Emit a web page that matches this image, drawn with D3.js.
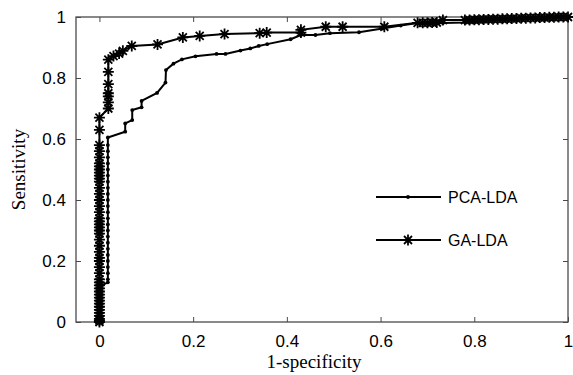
<!DOCTYPE html>
<html>
<head>
<meta charset="utf-8">
<script src="https://cdn.jsdelivr.net/npm/d3@7"></script>
<style>
  body { margin: 0; background: #fff; }
  svg { display: block; }
  .tick text { font-family: "Liberation Sans", Arial, sans-serif; font-size: 17px; fill: #000; }
  .axis-label { font-family: "Liberation Serif", "Times New Roman", serif; font-size: 19px; fill: #000; }
  .legend text { font-family: "Liberation Sans", Arial, sans-serif; font-size: 16px; fill: #000; }
</style>
</head>
<body>
<div id="chart"></div>
<script>
// x/y tick values
const xTicks = [0, 0.2, 0.4, 0.6, 0.8, 1]
const yTicks = [0, 0.2, 0.4, 0.6, 0.8, 1]

// PCA-LDA ROC curve (1-specificity, sensitivity)
const pcaFpr = [0, 0, 0.003, 0.003, 0.003, 0.005, 0.018,
    0.018, 0.018, 0.018, 0.018, 0.018, 0.018, 0.018, 0.018, 0.018, 0.018, 0.018, 0.018,
    0.018, 0.018, 0.018, 0.018, 0.018, 0.018, 0.018, 0.018, 0.018, 0.018, 0.018, 0.018,
    0.055, 0.055, 0.07, 0.07, 0.09, 0.09, 0.123, 0.141, 0.142, 0.158, 0.176, 0.205,
    0.25, 0.269, 0.301, 0.322, 0.34, 0.358, 0.408, 0.43, 0.461, 0.492, 0.554, 0.604,
    0.643, 0.679, 0.70, 0.733, 0.78, 0.80, 0.82, 0.84, 0.86, 0.88, 0.90, 0.92, 0.94,
    0.96, 0.98, 1]
const pcaTpr = [0, 0.02, 0.05, 0.08, 0.10, 0.12, 0.13,
    0.14, 0.16, 0.18, 0.20, 0.22, 0.24, 0.26, 0.28, 0.30, 0.32, 0.34, 0.36,
    0.38, 0.40, 0.42, 0.44, 0.46, 0.48, 0.50, 0.52, 0.54, 0.56, 0.58, 0.605,
    0.624, 0.651, 0.662, 0.695, 0.704, 0.725, 0.751, 0.785, 0.826, 0.847, 0.861, 0.871,
    0.879, 0.879, 0.89, 0.897, 0.905, 0.911, 0.927, 0.941, 0.941, 0.947, 0.95, 0.962,
    0.972, 0.98, 0.98, 0.98, 0.982, 0.985, 0.987, 0.99, 0.99, 0.992, 0.994, 0.996, 0.997,
    0.998, 1, 1]

// GA-LDA ROC curve
const gaFpr = [0, 0, 0, 0, 0, 0, 0, 0, 0, 0, 0, 0, 0, 0, 0, 0,
    0, 0, 0, 0, 0, 0, 0, 0, 0, 0, 0, 0, 0, 0, 0, 0,
    0, 0, 0, 0, 0, 0, 0, 0, 0, 0, 0, 0, 0, 0,
    0.019, 0.019, 0.019, 0.019, 0.019, 0.019, 0.019,
    0.03, 0.042, 0.05, 0.069, 0.124, 0.178, 0.214, 0.267, 0.342, 0.357, 0.43, 0.43,
    0.483, 0.519, 0.608, 0.679, 0.69, 0.70, 0.71, 0.72, 0.733,
    0.78, 0.79, 0.80, 0.81, 0.82, 0.83, 0.84, 0.85, 0.86, 0.87, 0.88, 0.89,
    0.90, 0.91, 0.92, 0.93, 0.94, 0.95, 0.96, 0.97, 0.98, 0.99, 1]
const gaTpr = [0, 0.005, 0.01, 0.02, 0.03, 0.04, 0.05, 0.06, 0.07, 0.08, 0.09, 0.10, 0.11, 0.12, 0.13, 0.14,
    0.16, 0.18, 0.20, 0.21, 0.23, 0.25, 0.27, 0.29, 0.30, 0.31, 0.32, 0.33, 0.34, 0.36, 0.38, 0.40,
    0.42, 0.44, 0.46, 0.47, 0.48, 0.49, 0.50, 0.51, 0.52, 0.54, 0.56, 0.58, 0.63, 0.67,
    0.70, 0.72, 0.74, 0.75, 0.78, 0.82, 0.86,
    0.872, 0.88, 0.889, 0.905, 0.91, 0.933, 0.938, 0.944, 0.947, 0.949, 0.949, 0.958,
    0.968, 0.968, 0.968, 0.981, 0.981, 0.981, 0.982, 0.982, 0.99,
    0.99, 0.99, 0.991, 0.991, 0.992, 0.992, 0.993, 0.993, 0.994, 0.994, 0.995, 0.995,
    0.996, 0.996, 0.997, 0.997, 0.998, 0.998, 0.999, 0.999, 1, 1, 1]

const legendLabels = ["PCA-LDA", "GA-LDA"]

const width = 573, height = 375
const plot = { left: 76, right: 568, top: 17, bottom: 322 }
const frameColor = "#4a4a4a"

const svg = d3.select("#chart").append("svg")
    .attr("width", width)
    .attr("height", height)

const x = d3.scaleLinear().domain([-0.05, 1]).range([plot.left, plot.right])
const y = d3.scaleLinear().domain([0, 1]).range([plot.bottom, plot.top])

/** axes with inward ticks, matlab style */
function styleAxis(g) {
    g.select(".domain").remove()
    g.selectAll(".tick line").attr("stroke", frameColor)
}

svg.append("g")
    .attr("transform", `translate(0,${plot.bottom})`)
    .call(d3.axisBottom(x).tickValues(xTicks).tickSizeInner(-5).tickSizeOuter(0)
        .tickPadding(13).tickFormat(d => String(d)))
    .call(styleAxis)

svg.append("g")
    .attr("transform", `translate(0,${plot.top})`)
    .call(d3.axisTop(x).tickValues(xTicks).tickSizeInner(-5).tickSizeOuter(0).tickFormat(""))
    .call(styleAxis)

svg.append("g")
    .attr("transform", `translate(${plot.left},0)`)
    .call(d3.axisLeft(y).tickValues(yTicks).tickSizeInner(-5).tickSizeOuter(0)
        .tickPadding(10).tickFormat(d => String(d)))
    .call(styleAxis)

svg.append("g")
    .attr("transform", `translate(${plot.right},0)`)
    .call(d3.axisRight(y).tickValues(yTicks).tickSizeInner(-5).tickSizeOuter(0).tickFormat(""))
    .call(styleAxis)

// frame
svg.append("rect")
    .attr("x", plot.left)
    .attr("y", plot.top)
    .attr("width", plot.right - plot.left)
    .attr("height", plot.bottom - plot.top)
    .attr("fill", "none")
    .attr("stroke", frameColor)
    .attr("stroke-width", 1.3)

// axis labels
svg.append("text")
    .attr("class", "axis-label")
    .attr("x", 314)
    .attr("y", 368)
    .attr("text-anchor", "middle")
    .text("1-specificity")

svg.append("text")
    .attr("class", "axis-label")
    .attr("transform", `translate(25,${(plot.top + plot.bottom) / 2}) rotate(-90)`)
    .attr("text-anchor", "middle")
    .text("Sensitivity")

const pcaData = pcaFpr.map((f, i) => ({ x: f, y: pcaTpr[i] }))
const gaData = gaFpr.map((f, i) => ({ x: f, y: gaTpr[i] }))

const line = d3.line().x(d => x(d.x)).y(d => y(d.y))
const starPath = "M-5.5,0H5.5M0,-5.5V5.5M-4,-4L4,4M-4,4L4,-4"

// GA-LDA
svg.append("path")
    .datum(gaData)
    .attr("d", line)
    .attr("fill", "none")
    .attr("stroke", "#000")
    .attr("stroke-width", 2)
svg.append("g")
    .selectAll("path")
    .data(gaData)
    .enter()
    .append("path")
    .attr("d", starPath)
    .attr("transform", d => `translate(${x(d.x)},${y(d.y)})`)
    .attr("stroke", "#000")
    .attr("stroke-width", 1.8)

// PCA-LDA
svg.append("path")
    .datum(pcaData)
    .attr("d", line)
    .attr("fill", "none")
    .attr("stroke", "#000")
    .attr("stroke-width", 2)
svg.append("g")
    .selectAll("circle")
    .data(pcaData)
    .enter()
    .append("circle")
    .attr("cx", d => x(d.x))
    .attr("cy", d => y(d.y))
    .attr("r", 1.9)
    .attr("fill", "#000")

// legend
const legend = svg.append("g").attr("class", "legend")
legendLabels.forEach((label, i) => {
    const ly = 197 + i * 43
    legend.append("line")
        .attr("x1", 376).attr("x2", 441)
        .attr("y1", ly).attr("y2", ly)
        .attr("stroke", "#000")
        .attr("stroke-width", 2)
    if (i === 0) {
        legend.append("circle").attr("cx", 408).attr("cy", ly).attr("r", 1.9).attr("fill", "#000")
    } else {
        legend.append("path").attr("d", starPath)
            .attr("transform", `translate(408,${ly})`)
            .attr("stroke", "#000").attr("stroke-width", 1.8)
    }
    legend.append("text")
        .attr("x", 448)
        .attr("y", ly + 6)
        .text(label)
})
</script>
</body>
</html>
